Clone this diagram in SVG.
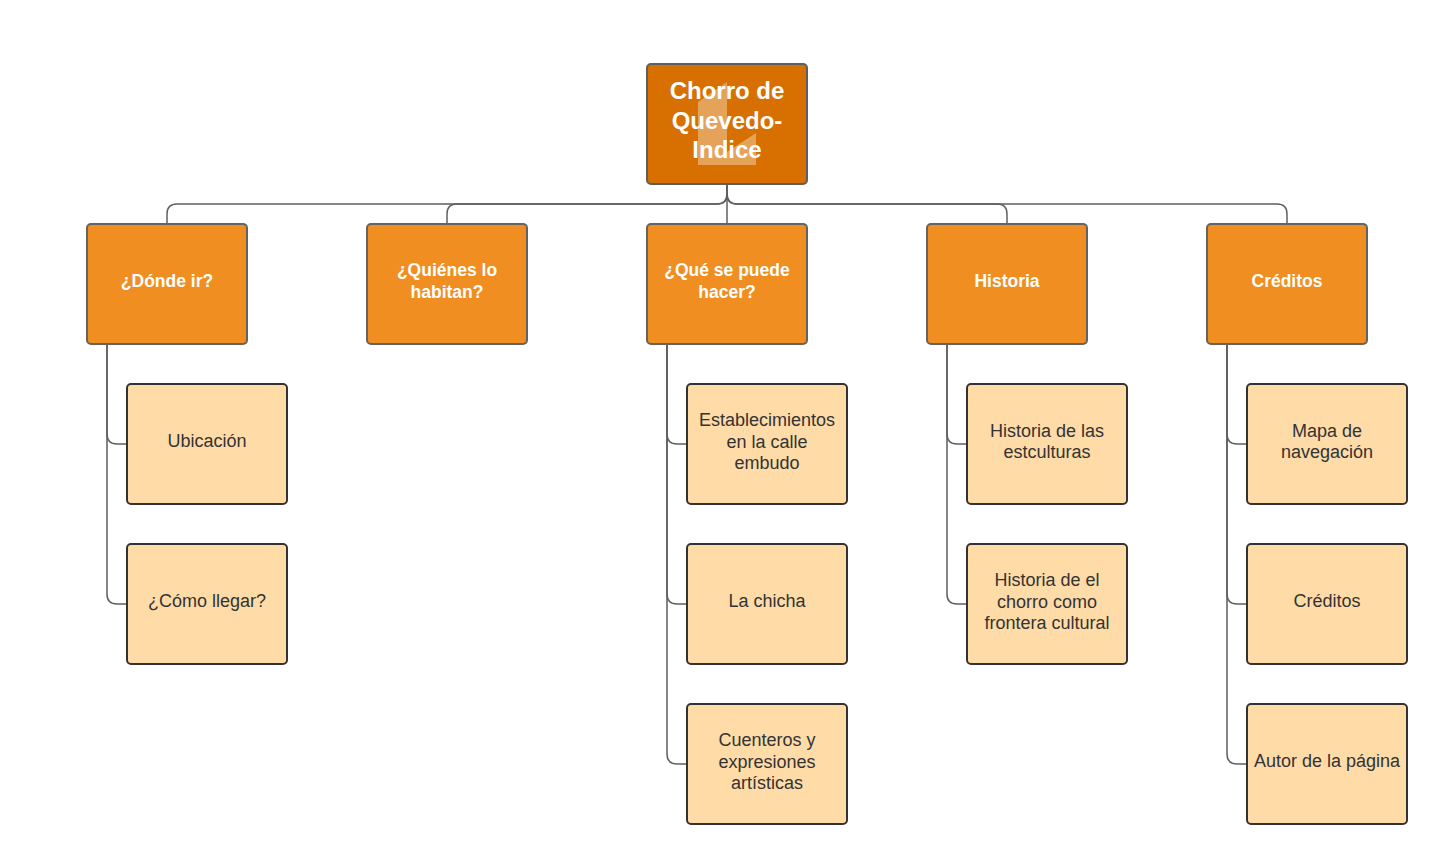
<svg xmlns="http://www.w3.org/2000/svg" width="1447" height="864" viewBox="0 0 1447 864">
<style>
.root{fill:#D77000;stroke:#5e5e5e;stroke-width:2}
.l1{fill:#F08E22;stroke:#636363;stroke-width:2}
.l2{fill:#FFDBA8;stroke:#333333;stroke-width:2}
.c{fill:none;stroke:#5f5f5f;stroke-width:1.5}
text{font-family:"Liberation Sans",Arial,sans-serif;text-anchor:middle}
.tr{fill:#ffffff;font-weight:bold;font-size:24px}
.t1{fill:#ffffff;font-weight:bold;font-size:17.5px}
.t2{fill:#333333;font-size:18px}
</style>
<rect width="1447" height="864" fill="#ffffff"/>
<g id="connectors">
<path class="c" d="M727 184 V224"/>
<path class="c" d="M727 184 V194 Q727 204 717 204 H177 Q167 204 167 214 V224"/>
<path class="c" d="M727 194 Q727 204 717 204 H457 Q447 204 447 214 V224"/>
<path class="c" d="M727 184 V194 Q727 204 737 204 H997 Q1007 204 1007 214 V224"/>
<path class="c" d="M727 194 Q727 204 737 204 H1277 Q1287 204 1287 214 V224"/>
<path class="c" d="M107 344 V434 Q107 444 117 444 H127"/>
<path class="c" d="M107 344 V594 Q107 604 117 604 H127"/>
<path class="c" d="M667 344 V434 Q667 444 677 444 H687"/>
<path class="c" d="M667 344 V594 Q667 604 677 604 H687"/>
<path class="c" d="M667 344 V754 Q667 764 677 764 H687"/>
<path class="c" d="M947 344 V434 Q947 444 957 444 H967"/>
<path class="c" d="M947 344 V594 Q947 604 957 604 H967"/>
<path class="c" d="M1227 344 V434 Q1227 444 1237 444 H1247"/>
<path class="c" d="M1227 344 V594 Q1227 604 1237 604 H1247"/>
<path class="c" d="M1227 344 V754 Q1227 764 1237 764 H1247"/>
</g>
<g id="root">
<rect class="root" x="647" y="64" width="160" height="120" rx="4"/>
<polygon points="698,102 727,82 727,165 698,165" fill="#ffffff" opacity="0.35"/>
<polygon points="727,152 756,133 756,165 727,165" fill="#ffffff" opacity="0.35"/>
<text class="tr" x="727" y="99">Chorro de</text>
<text class="tr" x="727" y="128.5">Quevedo-</text>
<text class="tr" x="727" y="158">Indice</text>
</g>
<g id="n-donde">
<rect class="l1" x="87" y="224" width="160" height="120" rx="4"/>
<text class="t1" x="167" y="287">¿Dónde ir?</text>
</g>
<g id="n-quienes">
<rect class="l1" x="367" y="224" width="160" height="120" rx="4"/>
<text class="t1" x="447" y="276">¿Quiénes lo</text>
<text class="t1" x="447" y="298">habitan?</text>
</g>
<g id="n-que">
<rect class="l1" x="647" y="224" width="160" height="120" rx="4"/>
<text class="t1" x="727" y="276">¿Qué se puede</text>
<text class="t1" x="727" y="298">hacer?</text>
</g>
<g id="n-historia">
<rect class="l1" x="927" y="224" width="160" height="120" rx="4"/>
<text class="t1" x="1007" y="287">Historia</text>
</g>
<g id="n-creditos">
<rect class="l1" x="1207" y="224" width="160" height="120" rx="4"/>
<text class="t1" x="1287" y="287">Créditos</text>
</g>
<g id="n-ubicacion">
<rect class="l2" x="127" y="384" width="160" height="120" rx="4"/>
<text class="t2" x="207" y="447">Ubicación</text>
</g>
<g id="n-como">
<rect class="l2" x="127" y="544" width="160" height="120" rx="4"/>
<text class="t2" x="207" y="607">¿Cómo llegar?</text>
</g>
<g id="n-establecimientos">
<rect class="l2" x="687" y="384" width="160" height="120" rx="4"/>
<text class="t2" x="767" y="426">Establecimientos</text>
<text class="t2" x="767" y="447.5">en la calle</text>
<text class="t2" x="767" y="469">embudo</text>
</g>
<g id="n-chicha">
<rect class="l2" x="687" y="544" width="160" height="120" rx="4"/>
<text class="t2" x="767" y="607">La chicha</text>
</g>
<g id="n-cuenteros">
<rect class="l2" x="687" y="704" width="160" height="120" rx="4"/>
<text class="t2" x="767" y="746">Cuenteros y</text>
<text class="t2" x="767" y="767.5">expresiones</text>
<text class="t2" x="767" y="789">artísticas</text>
</g>
<g id="n-hist-esculturas">
<rect class="l2" x="967" y="384" width="160" height="120" rx="4"/>
<text class="t2" x="1047" y="437">Historia de las</text>
<text class="t2" x="1047" y="458">estculturas</text>
</g>
<g id="n-hist-chorro">
<rect class="l2" x="967" y="544" width="160" height="120" rx="4"/>
<text class="t2" x="1047" y="586">Historia de el</text>
<text class="t2" x="1047" y="607.5">chorro como</text>
<text class="t2" x="1047" y="629">frontera cultural</text>
</g>
<g id="n-mapa">
<rect class="l2" x="1247" y="384" width="160" height="120" rx="4"/>
<text class="t2" x="1327" y="437">Mapa de</text>
<text class="t2" x="1327" y="458">navegación</text>
</g>
<g id="n-creditos2">
<rect class="l2" x="1247" y="544" width="160" height="120" rx="4"/>
<text class="t2" x="1327" y="607">Créditos</text>
</g>
<g id="n-autor">
<rect class="l2" x="1247" y="704" width="160" height="120" rx="4"/>
<text class="t2" x="1327" y="767">Autor de la página</text>
</g>
</svg>
